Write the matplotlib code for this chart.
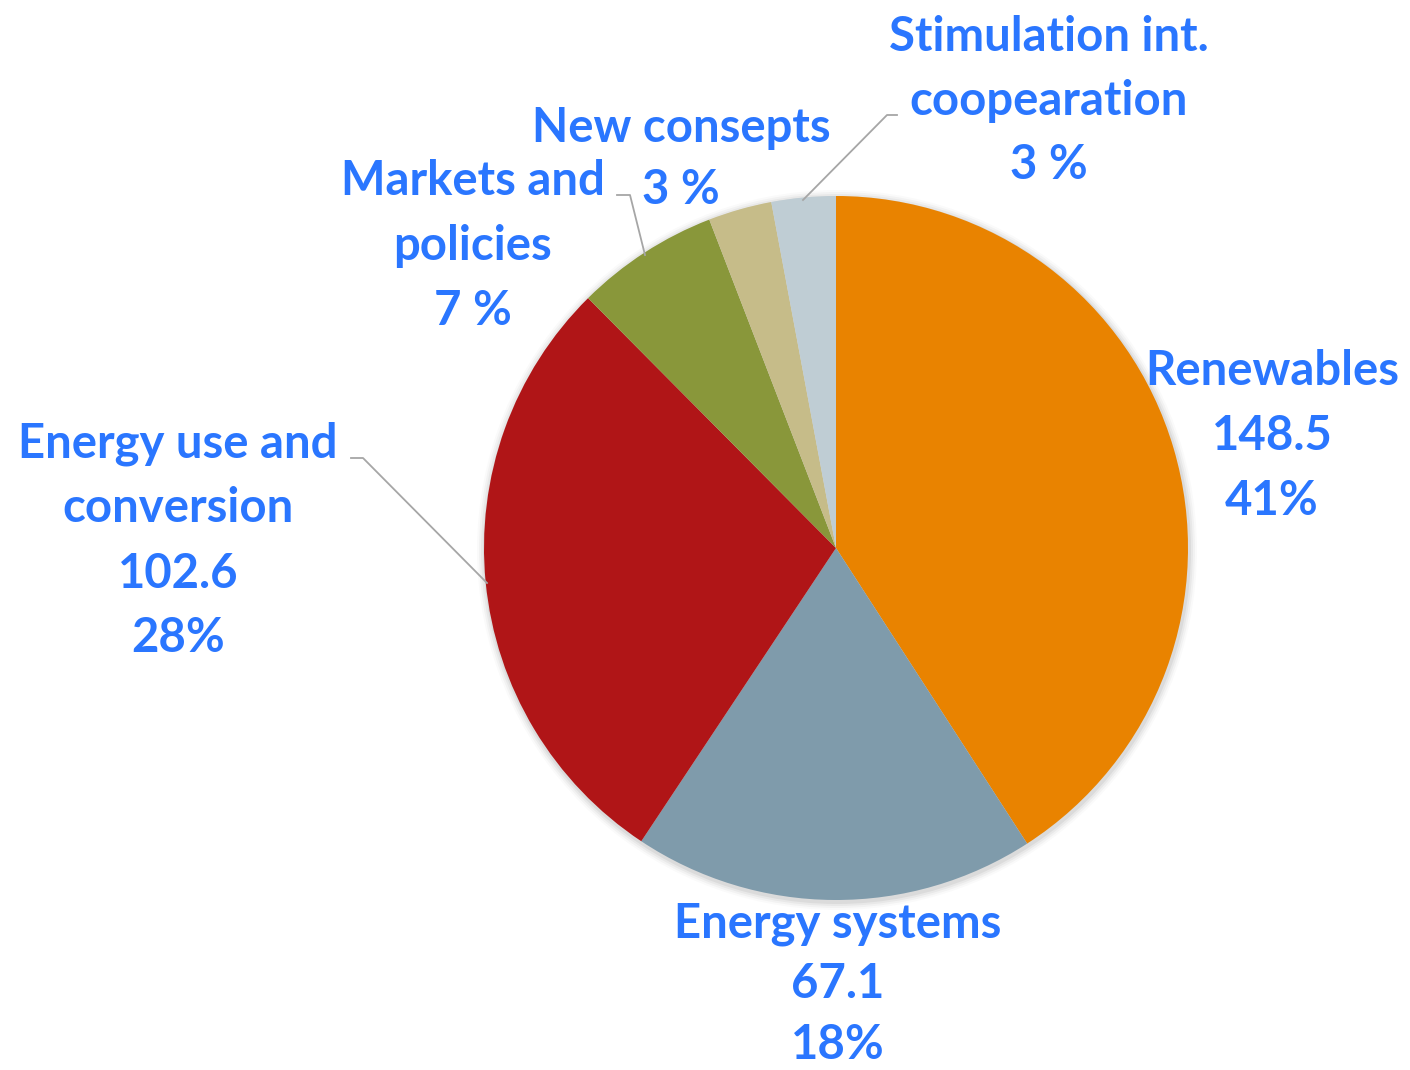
import matplotlib
matplotlib.use("Agg")
import matplotlib.pyplot as plt
from matplotlib.patches import Circle

categories = ["Renewables", "Energy systems", "Energy use and\nconversion",
              "Markets and\npolicies", "New consepts", "Stimulation int.\ncoopearation"]
values = [148.5, 67.1, 102.6, 23.9, 10.6, 10.7]
show_value = [True, True, True, False, False, False]
colors = ["#E98300", "#7F9BAB", "#B01517", "#89973A", "#C6BC89", "#BFCDD4"]

W, H = 1410, 1070
fig = plt.figure(figsize=(W / 100, H / 100), dpi=100)
ax = fig.add_axes([0, 0, 1, 1])

cx, cy, r = 836, H - 548, 352

# soft shadow
for i, a in enumerate([0.05, 0.04, 0.03, 0.02]):
    ax.add_patch(Circle((cx + 1, cy - 2), r + 2 + 2 * i, color="#000000", alpha=a, lw=0, zorder=0))

ax.pie(values, colors=colors, startangle=90, counterclock=False,
       center=(cx, cy), radius=r, frame=True,
       wedgeprops=dict(linewidth=0, zorder=2))
ax.set_xlim(0, W)
ax.set_ylim(0, H)
ax.set_aspect("equal")
ax.axis("off")

total = sum(values)
txt_color = "#2A76FF"
font = dict(family=["Lato", "DejaVu Sans"], weight="bold", size=34, color=txt_color,
            ha="center", va="baseline")

label_pos = [(1272, 435), (838, 983), (178, 540), (473, 245), (681, 158), (1049, 100)]
line_steps = [65, 61, 65, 65, 63, 64]
for cat, v, sv, (x, y), step in zip(categories, values, show_value, label_pos, line_steps):
    pct = round(100 * v / total)
    if sv:
        lines = cat.split("\n") + [f"{v}", f"{pct}%"]
    else:
        lines = cat.split("\n") + [f"{pct} %"]
    n = len(lines)
    for i, ln in enumerate(lines):
        yb = y - (n - 1) / 2 * step + i * step + 15
        ax.text(x, H - yb, ln, zorder=5, **font)

# leader lines
lc = "#A6A6A6"
leaders = [
    [(351, 458), (363, 458), (487, 583)],
    [(617, 195), (630, 195), (645, 255)],
    [(897, 115), (887, 115), (803, 200)],
]
for pts in leaders:
    xs = [p[0] for p in pts]
    ys = [H - p[1] for p in pts]
    ax.plot(xs, ys, color=lc, lw=1.3, zorder=4)

fig.savefig("out.png", dpi=100, facecolor="white")
